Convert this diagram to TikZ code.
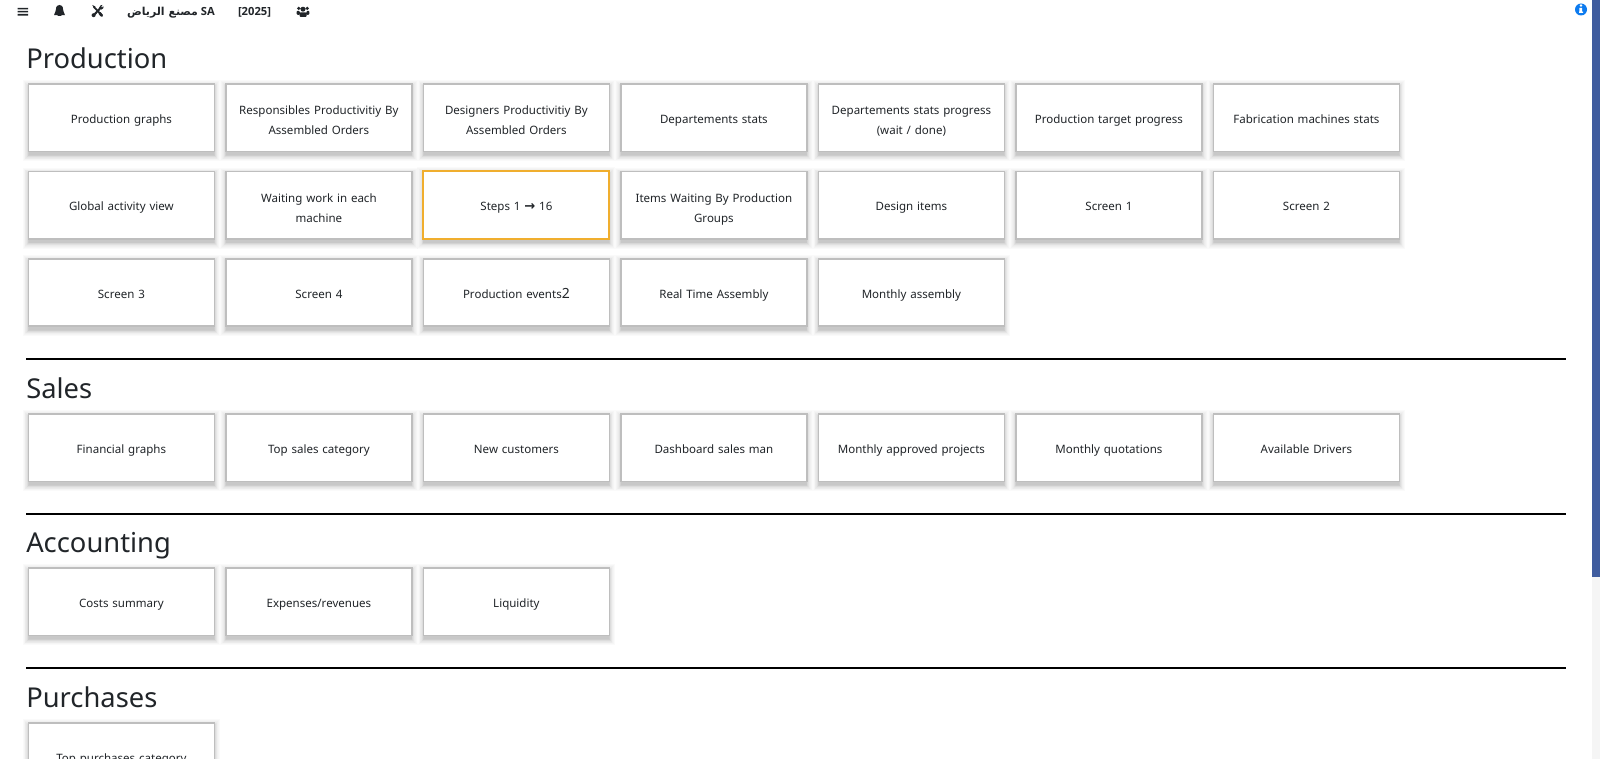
\documentclass[tikz,border=0pt]{standalone}
\usepackage{fontspec}
\usetikzlibrary{backgrounds}
\setmainfont{Noto Sans}
\newfontfamily\barfont{Open Sans}
\newfontfamily\arabicfont[Script=Arabic]{DejaVu Sans}
\newfontfamily\symfont{DejaVu Sans}
\TeXXeTstate=1
\definecolor{ink}{HTML}{212529}
\definecolor{cardline}{HTML}{BEBEBE}
\definecolor{scrollblue}{HTML}{3F5C9E}
\definecolor{infoblue}{HTML}{0D7BEF}
\definecolor{activeline}{HTML}{F0AE2E}
\tikzset{
  cardbase/.style={fill=white,line width=1.3pt,minimum width=186pt*0.75,minimum height=67.5pt*0.75,
    text width=176pt*0.75,align=center,inner sep=0pt,text=ink,
    font=\fontsize{8.65}{15}\selectfont,
    execute at begin node={\rule{0pt}{11.7pt}},execute at end node={\rule[-3.3pt]{0pt}{3.3pt}}},
  card/.style={cardbase,draw=cardline},
  twocard/.style={card,execute at begin node={\rule{0pt}{13.6pt}},execute at end node={\rule[-1.4pt]{0pt}{1.4pt}}},
  activecard/.style={cardbase,draw=activeline,line width=1.5pt},
  heading/.style={anchor=base west,inner sep=0pt,text=ink,font=\fontsize{20.5}{25}\selectfont},
  topitem/.style={anchor=base,inner sep=0pt,text=ink,font=\barfont\fontsize{8.4}{10}\bfseries\selectfont},
  rule/.style={line width=1.5pt,black},
  iconfill/.style={fill=ink,draw=none},
  shadowlayer/.style={fill=black,opacity=.018}
}
\begin{document}
\begin{tikzpicture}[x=0.75pt,y=-0.75pt]
\useasboundingbox (0,0) rectangle (1600,759);
\clip (0,0) rectangle (1600,759);
\begin{pgfonlayer}{background}
\fill[white] (0,0) rectangle (1600,759);
\end{pgfonlayer}
% scrollbar
\fill[cardline!60] (1591.5,0) rectangle (1592.5,759);
\fill[scrollblue] (1592,0) rectangle (1600,577);
\fill[gray!8] (1592,577) rectangle (1600,759);
% top bar icons
\fill[ink] (17.5,7.8) rectangle (28.2,9.4) (17.5,10.9) rectangle (28.2,12.5) (17.5,14) rectangle (28.2,15.6);
\path[iconfill] (59.5,5) .. controls (56,5.5) and (55.8,8) .. (55.6,11) .. controls (55.4,13) and (54.5,14) .. (54,15.2) -- (65,15.2) .. controls (64.5,14) and (63.6,13) .. (63.4,11) .. controls (63.2,8) and (63,5.5) .. (59.5,5) -- cycle;
\fill[ink] (57.5,15.8) arc[start angle=180,end angle=360,radius=2];
\draw[ink,line width=1.3pt] (94,7) -- (101.5,15);
\draw[ink,line width=2pt,line cap=round] (99.5,13) -- (101.8,15.6);
\draw[ink,line width=1.5pt] (101,7.5) -- (94,15);
\fill[ink] (92.3,5) -- (95.5,6.5) -- (93.8,8.2) -- cycle;
\fill[ink] (103.2,6.2) -- (103.5,8) -- (101.5,9.6) -- (99.2,7.5) -- (100.8,5.2) -- (102.5,5) -- (101.2,6.8) -- (102,7.6) -- cycle;
\fill[ink] (93.6,15.2) circle (2);
\node[topitem] (company) at (171,15.5) {{\arabicfont\bfseries\fontsize{8.2}{10}\selectfont\beginR مصنع الرياض\endR} SA};
\node[topitem] (year) at (254.5,15.5) {[2025]};
\fill[ink] (303,9.2) circle (2.5) (298.7,8.4) circle (1.8) (307.3,8.4) circle (1.8);
\fill[ink,rounded corners=.8pt] (299.6,17) rectangle (306.6,12.3) (296.6,14.8) rectangle (299.8,10.8) (306.4,14.8) rectangle (309.4,10.8);
\fill[infoblue] (1581,9.5) circle (6);
\fill[white] (1581,5.5) circle (1.3);
\fill[white] (1579.4,8) rectangle (1582.2,12.4) (1579.2,11.6) rectangle (1583,13);
% headings
\node[heading] (hprod) at (26,69) {Production};
\node[heading] (hsales) at (26,398.5) {Sales};
\node[heading] (hacct) at (26,552.5) {Accounting};
\node[heading] (hpurch) at (26,707) {Purchases};
% rules
\coordinate (ra1) at (26,359); \coordinate (rb1) at (1566,359);
\coordinate (ra2) at (26,514); \coordinate (rb2) at (1566,514);
\coordinate (ra3) at (26,668); \coordinate (rb3) at (1566,668);
\draw[rule] (ra1) -- (rb1);
\draw[rule] (ra2) -- (rb2);
\draw[rule] (ra3) -- (rb3);
% Production
\node[card] (a1) at (121.4,117.8) {Production graphs};
\node[twocard] (a2) at (318.9,117.8) {Responsibles Productivitiy By\\Assembled Orders};
\node[twocard] (a3) at (516.4,117.8) {Designers Productivitiy By\\Assembled Orders};
\node[card] (a4) at (713.9,117.8) {Departements stats};
\node[twocard] (a5) at (911.4,117.8) {Departements stats progress\\(wait / done)};
\node[card] (a6) at (1108.9,117.8) {Production target progress};
\node[card] (a7) at (1306.4,117.8) {Fabrication machines stats};
\node[card] (b1) at (121.4,205.2) {Global activity view};
\node[twocard] (b2) at (318.9,205.2) {Waiting work in each\\machine};
\node[activecard] (b3) at (516.4,205.2) {Steps 1 {\symfont\bfseries\fontsize{9.8}{15}\selectfont→} 16};
\node[twocard] (b4) at (713.9,205.2) {Items Waiting By Production\\Groups};
\node[card] (b5) at (911.4,205.2) {Design items};
\node[card] (b6) at (1108.9,205.2) {Screen 1};
\node[card] (b7) at (1306.4,205.2) {Screen 2};
\node[card] (c1) at (121.4,292.6) {Screen 3};
\node[card] (c2) at (318.9,292.6) {Screen 4};
\node[card] (c3) at (516.4,292.6) {Production events{\fontsize{10.5}{15}\selectfont 2}};
\node[card] (c4) at (713.9,292.6) {Real Time Assembly};
\node[card] (c5) at (911.4,292.6) {Monthly assembly};
% Sales
\node[card] (d1) at (121.4,447.7) {Financial graphs};
\node[card] (d2) at (318.9,447.7) {Top sales category};
\node[card] (d3) at (516.4,447.7) {New customers};
\node[card] (d4) at (713.9,447.7) {Dashboard sales man};
\node[card] (d5) at (911.4,447.7) {Monthly approved projects};
\node[card] (d6) at (1108.9,447.7) {Monthly quotations};
\node[card] (d7) at (1306.4,447.7) {Available Drivers};
% Accounting
\node[card] (e1) at (121.4,601.7) {Costs summary};
\node[card] (e2) at (318.9,601.7) {Expenses/revenues};
\node[card] (e3) at (516.4,601.7) {Liquidity};
% Purchases
\node[card] (f1) at (121.4,757) {Top purchases category};
% soft card shadows
\begin{pgfonlayer}{background}
\foreach \n in {a1,a2,a3,a4,a5,a6,a7,b1,b2,b3,b4,b5,b6,b7,c1,c2,c3,c4,c5,d1,d2,d3,d4,d5,d6,d7,e1,e2,e3,f1}
  \foreach \k in {0,0.3,0.6,1,1.4,1.9,2.5,3.2,4,5,6}
    \fill[shadowlayer] ([shift={(-\k+1,3-\k)}]\n.north west) rectangle ([shift={(\k-1,3+\k)}]\n.south east);
\end{pgfonlayer}
\end{tikzpicture}
\end{document}
